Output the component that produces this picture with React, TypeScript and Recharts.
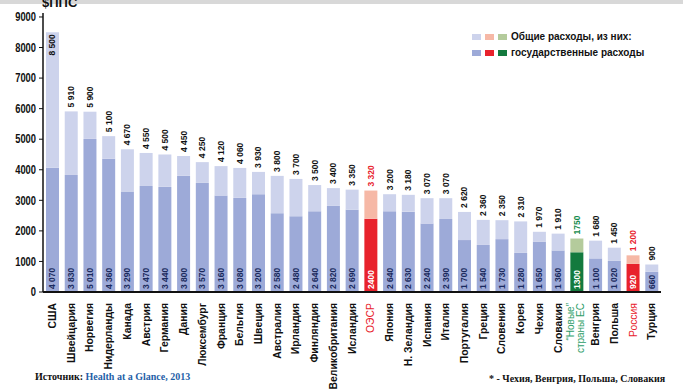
import React from 'react';
import { BarChart, Bar, XAxis, YAxis, Cell, LabelList } from 'recharts';

const categories = [
  'США', 'Швейцария', 'Норвегия', 'Нидерланды', 'Канада', 'Австрия', 'Германия', 'Дания',
  'Люксембург', 'Франция', 'Бельгия', 'Швеция', 'Австралия', 'Ирландия', 'Финляндия',
  'Великобритания', 'Исландия', 'ОЭСР', 'Япония', 'Н. Зеландия', 'Испания', 'Италия',
  'Португалия', 'Греция', 'Словения', 'Корея', 'Чехия', 'Словакия', '“Новые” страны ЕС',
  'Венгрия', 'Польша', 'Россия', 'Турция',
];
const totalSpending = [
  8500, 5910, 5900, 5100, 4670, 4550, 4500, 4450, 4250, 4120, 4060, 3930, 3800, 3700, 3500,
  3400, 3350, 3320, 3200, 3180, 3070, 3070, 2620, 2360, 2350, 2310, 1970, 1910, 1750, 1680,
  1450, 1200, 900,
];
const publicSpending = [
  4070, 3830, 5010, 4360, 3290, 3470, 3440, 3800, 3570, 3160, 3080, 3200, 2580, 2480, 2640,
  2820, 2690, 2400, 2640, 2630, 2240, 2390, 1700, 1540, 1730, 1280, 1650, 1360, 1300, 1100,
  1020, 920, 660,
];
const yTicks = [0, 1000, 2000, 3000, 4000, 5000, 6000, 7000, 8000, 9000];
const redCategories = ['ОЭСР', 'Россия'];
const greenCategories = ['“Новые” страны ЕС'];
const legendTotal = 'Общие расходы, из них:';
const legendPublic = 'государственные расходы';
const unitLabel = '$ППС';
const sourceLabel = 'Источник: ';
const sourceTitle = 'Health at a Glance, 2013';
const footnote = '* - Чехия, Венгрия, Польша, Словакия';

const data = categories.map((name, i) => ({
  name,
  gov: publicSpending[i],
  rest: totalSpending[i] - publicSpending[i],
  total: totalSpending[i],
}));

type Kind = 'blue' | 'red' | 'green';
const kindOf = (name: string): Kind =>
  redCategories.includes(name) ? 'red' : greenCategories.includes(name) ? 'green' : 'blue';

const palette = {
  blue: { light: '#CDD3EC', dark: '#9DAAD8', total: '#111', gov: '#1B2A5E', tick: '#111' },
  red: { light: '#F6B8A6', dark: '#E8222C', total: '#E8222C', gov: '#FFFFFF', tick: '#E8222C' },
  green: { light: '#B4CB9C', dark: '#137A3E', total: '#138A4B', gov: '#FFFFFF', tick: '#2E9E6A' },
};

const fmt = (v: number, spaced: boolean) => {
  if (!spaced || v < 1000) return String(v);
  const th = Math.floor(v / 1000);
  const rest = String(v % 1000).padStart(3, '0');
  return `${th} ${rest}`;
};

const PLOT_TOP = 13;
const numFont = '"Liberation Sans", Arial, sans-serif';

const TotalLabel = (props: any) => {
  const { x, y, width, index } = props;
  const d = data[index];
  if (!d) return null;
  const kind = kindOf(d.name);
  const cx = x + width / 2;
  const text = fmt(d.total, kind !== 'green');
  const len = text.length * 4.6;
  const inside = y - 4 - len < PLOT_TOP;
  const ty = inside ? y + 2 : y - 4;
  return (
    <text
      x={cx}
      y={ty}
      transform={`rotate(-90, ${cx}, ${ty})`}
      textAnchor={inside ? 'end' : 'start'}
      dy="0.35em"
      fontSize={8.5}
      fontWeight="bold"
      fontFamily={numFont}
      fill={palette[kind].total}
    >
      {text}
    </text>
  );
};

const GovLabel = (props: any) => {
  const { x, y, width, height, index } = props;
  const d = data[index];
  if (!d) return null;
  const kind = kindOf(d.name);
  const cx = x + width / 2;
  const ty = y + height - 3;
  const text = fmt(d.gov, kind === 'blue');
  return (
    <text
      x={cx}
      y={ty}
      transform={`rotate(-90, ${cx}, ${ty})`}
      textAnchor="start"
      dy="0.35em"
      fontSize={8.5}
      fontWeight="bold"
      fontFamily={numFont}
      fill={palette[kind].gov}
    >
      {text}
    </text>
  );
};

const CategoryTick = (props: any) => {
  const { x, y, payload } = props;
  const name: string = payload.value;
  const kind = kindOf(name);
  const ty = y + 3;
  if (kind === 'green') {
    const parts = ['“Новые”', 'страны ЕС'];
    return (
      <g>
        {parts.map((p, i) => {
          const lx = x - 6 + i * 10;
          return (
            <text
              key={i}
              x={lx}
              y={ty}
              transform={`rotate(-90, ${lx}, ${ty})`}
              textAnchor="end"
              dy="0.35em"
              fontSize={10}
              fontFamily={numFont}
              fill={palette.green.tick}
            >
              {p}
            </text>
          );
        })}
      </g>
    );
  }
  return (
    <text
      x={x}
      y={ty}
      transform={`rotate(-90, ${x}, ${ty})`}
      textAnchor="end"
      dy="0.35em"
      fontSize={10.4}
      fontWeight={kind === 'red' ? 'normal' : 'bold'}
      fontFamily={numFont}
      fill={palette[kind].tick}
    >
      {name}
    </text>
  );
};

const ValueTick = (props: any) => {
  const { x, y, payload } = props;
  return (
    <text
      x={0}
      y={0}
      transform={`translate(${x}, ${y}) scale(0.78, 1)`}
      textAnchor="end"
      dy="0.35em"
      fontSize={12}
      fontWeight="bold"
      fontFamily={numFont}
      fill="#111"
    >
      {payload.value}
    </text>
  );
};

const swatch = (color: string, left: number, top: number) => (
  <div
    style={{ position: 'absolute', left, top, width: 9, height: 6, background: color }}
  />
);

const legendText: React.CSSProperties = {
  position: 'absolute',
  left: 511,
  fontFamily: numFont,
  fontWeight: 'bold',
  fontSize: 10,
  lineHeight: '14px',
  color: '#111',
  whiteSpace: 'nowrap',
};

export default function App() {
  return (
    <div
      style={{
        position: 'absolute',
        left: 0,
        top: 0,
        width: 683,
        height: 391,
        background: '#fff',
        overflow: 'hidden',
      }}
    >
      <div style={{ position: 'absolute', left: 0, top: 0, width: 683, height: 4, background: '#D8D8D8' }} />
      <div
        style={{
          position: 'absolute',
          left: 42,
          top: -4,
          fontFamily: numFont,
          fontWeight: 'bold',
          fontSize: 13,
          lineHeight: '13px',
          color: '#111',
        }}
      >
        {unitLabel}
      </div>
      <BarChart
        width={683}
        height={391}
        data={data}
        margin={{ top: PLOT_TOP, right: 22, bottom: 0, left: 0 }}
        barSize={13}
      >
        <XAxis
          dataKey="name"
          interval={0}
          height={99}
          tickLine={false}
          axisLine={{ stroke: '#111', strokeWidth: 2 }}
          tick={<CategoryTick />}
        />
        <XAxis
          xAxisId="top"
          orientation="top"
          dataKey="name"
          height={0}
          tick={false}
          tickLine={false}
          axisLine={{ stroke: '#444', strokeWidth: 1.5 }}
        />
        <YAxis
          width={43}
          domain={[0, 9130]}
          ticks={yTicks}
          interval={0}
          tickSize={4}
          tickMargin={3}
          tickLine={{ stroke: '#111' }}
          axisLine={{ stroke: '#111', strokeWidth: 1.5 }}
          tick={<ValueTick />}
        />
        <YAxis
          yAxisId="right"
          orientation="right"
          width={0}
          domain={[0, 9130]}
          tick={false}
          tickLine={false}
          axisLine={{ stroke: '#444', strokeWidth: 1.5 }}
        />
        <Bar dataKey="gov" stackId="a" isAnimationActive={false}>
          {data.map((d, i) => (
            <Cell key={i} fill={palette[kindOf(d.name)].dark} />
          ))}
          <LabelList dataKey="gov" content={<GovLabel />} />
        </Bar>
        <Bar dataKey="rest" stackId="a" isAnimationActive={false}>
          {data.map((d, i) => (
            <Cell key={i} fill={palette[kindOf(d.name)].light} />
          ))}
          <LabelList dataKey="total" content={<TotalLabel />} />
        </Bar>
      </BarChart>
      {swatch(palette.blue.light, 472, 34)}
      {swatch(palette.red.light, 485, 34)}
      {swatch(palette.green.light, 498, 34)}
      {swatch(palette.blue.dark, 472, 50)}
      {swatch(palette.red.dark, 485, 50)}
      {swatch(palette.green.dark, 498, 50)}
      <div style={{ ...legendText, top: 30 }}>{legendTotal}</div>
      <div style={{ ...legendText, top: 46 }}>{legendPublic}</div>
      <div
        style={{
          position: 'absolute',
          left: 35,
          top: 371,
          fontFamily: '"Liberation Serif", "Times New Roman", serif',
          fontWeight: 'bold',
          fontSize: 10,
          lineHeight: '12px',
          whiteSpace: 'nowrap',
        }}
      >
        <span style={{ color: '#111' }}>{sourceLabel}</span>
        <span style={{ color: '#1F5FA8' }}>{sourceTitle}</span>
      </div>
      <div
        style={{
          position: 'absolute',
          left: 489,
          top: 373,
          fontFamily: '"Liberation Serif", "Times New Roman", serif',
          fontWeight: 'bold',
          fontSize: 10,
          lineHeight: '12px',
          color: '#111',
          whiteSpace: 'nowrap',
        }}
      >
        {footnote}
      </div>
    </div>
  );
}
